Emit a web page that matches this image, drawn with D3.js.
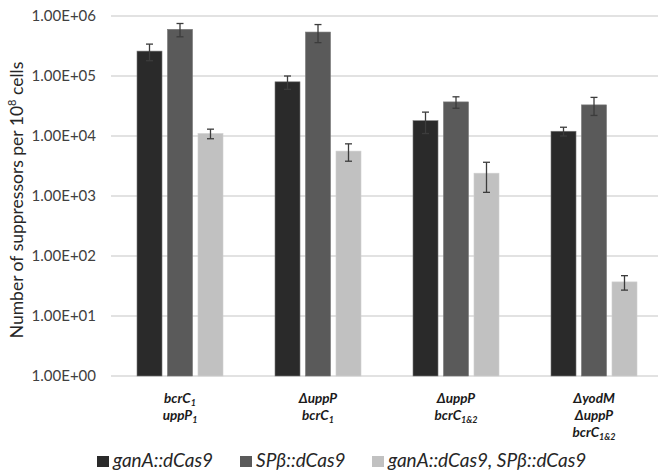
<!DOCTYPE html>
<html><head><meta charset="utf-8">
<script src="https://cdn.jsdelivr.net/npm/d3@7"></script>
<style>
html,body{margin:0;padding:0;background:#fff;}
svg{display:block;}
text{font-family:Lato,"Open Sans",sans-serif;}
</style></head>
<body>
<svg id="chart" width="658" height="472"></svg>
<script>
// ---- data ----
const categoryLabels = [
  [["bcrC","1"],["uppP","1"]],
  [["ΔuppP",""],["bcrC","1"]],
  [["ΔuppP",""],["bcrC","1&2"]],
  [["ΔyodM",""],["ΔuppP",""],["bcrC","1&2"]]
];
const categories = ["A","B","C","D"];
const seriesNames = ["ganA::dCas9","SPβ::dCas9","ganA::dCas9, SPβ::dCas9"];
const ganAValues = [260000, 80000, 18000, 12000];
const spbValues = [600000, 540000, 37000, 33000];
const bothValues = [11000, 5600, 2400, 37];
const ganAErrors = [80000, 20000, 7000, 2000];
const spbErrors = [150000, 180000, 8000, 11000];
const bothErrors = [2000, 1800, 1250, 10];
const yTickValues = [1, 10, 100, 1000, 10000, 100000, 1000000];
const yTickLabels = ["1.00E+00","1.00E+01","1.00E+02","1.00E+03","1.00E+04","1.00E+05","1.00E+06"];
const colors = ["#2a2a2a", "#5a5a5a", "#c1c1c1"];

const seriesValues = [ganAValues, spbValues, bothValues];
const seriesErrors = [ganAErrors, spbErrors, bothErrors];

const svg = d3.select("#chart");
const plot = {left:111, right:663, top:16, bottom:376};

const y = d3.scaleLog().domain([1, 1e6]).range([plot.bottom, plot.top]);
const x0 = d3.scaleBand().domain(categories).range([plot.left, plot.right]).padding(0);
const x1 = d3.scaleBand().domain([0,1,2]).range([26, 112]).paddingInner(0.18).paddingOuter(0);

// gridlines
svg.append("g").selectAll("line").data(yTickValues).join("line")
  .attr("x1", plot.left).attr("x2", plot.right)
  .attr("y1", d => y(d)).attr("y2", d => y(d))
  .attr("stroke", "#d9d9d9").attr("stroke-width", 1.3);

// y tick labels
svg.append("g").selectAll("text").data(yTickValues).join("text")
  .attr("x", 96).attr("y", d => y(d)).attr("dy", "0.35em")
  .attr("text-anchor", "end").attr("font-size", 15).attr("fill", "#404040")
  .text((d,i) => yTickLabels[i]);

// y title
const yt = svg.append("text")
  .attr("transform", "translate(23," + ((plot.top + plot.bottom)/2 + 4) + ") rotate(-90)")
  .attr("text-anchor", "middle").attr("font-size", 17.5).attr("fill", "#262626");
yt.append("tspan").text("Number of suppressors per 10");
yt.append("tspan").attr("font-size", 11).attr("dy", -7).text("8");
yt.append("tspan").attr("dy", 7).text(" cells");

// bars
const gGroups = svg.append("g").selectAll("g").data(categories).join("g")
  .attr("transform", d => "translate(" + x0(d) + ",0)");

seriesValues.forEach((vals, si) => {
  gGroups.append("rect")
    .attr("x", x1(si)).attr("width", x1.bandwidth())
    .attr("y", (d,i) => y(vals[i]))
    .attr("height", (d,i) => plot.bottom - y(vals[i]))
    .attr("fill", colors[si])
    .attr("stroke", si === 2 ? "#cfcfcf" : "#777").attr("stroke-width", 0.6);
});

// error bars
seriesValues.forEach((vals, si) => {
  const errs = seriesErrors[si];
  const cx = x1(si) + x1.bandwidth()/2;
  const eg = gGroups.append("g").attr("stroke", "#3c3c3c").attr("stroke-width", 1.3);
  eg.append("line").attr("x1", cx).attr("x2", cx)
    .attr("y1", (d,i) => y(vals[i] + errs[i])).attr("y2", (d,i) => y(vals[i] - errs[i]));
  eg.append("line").attr("x1", cx-3.5).attr("x2", cx+3.5)
    .attr("y1", (d,i) => y(vals[i] + errs[i])).attr("y2", (d,i) => y(vals[i] + errs[i]));
  eg.append("line").attr("x1", cx-3.5).attr("x2", cx+3.5)
    .attr("y1", (d,i) => y(vals[i] - errs[i])).attr("y2", (d,i) => y(vals[i] - errs[i]));
});

// x category labels
categories.forEach((c, ci) => {
  const cx = x0(c) + x0.bandwidth()/2;
  categoryLabels[ci].forEach((line, li) => {
    const t = svg.append("text").attr("x", cx).attr("y", 403 + li*17)
      .attr("text-anchor", "middle").attr("font-size", 13.5)
      .attr("font-weight", "bold").attr("font-style", "italic").attr("fill", "#1a1a1a");
    t.append("tspan").text(line[0]);
    if (line[1]) t.append("tspan").attr("font-size", 9).attr("dy", 3).text(line[1]);
  });
});

// legend
const legendX = [97, 240, 372];
const legend = svg.append("g").selectAll("g").data(seriesNames).join("g")
  .attr("transform", (d,i) => "translate(" + legendX[i] + ",456)");
legend.append("rect").attr("width", 12).attr("height", 11).attr("fill", (d,i) => colors[i]);
legend.append("text").attr("x", 16).attr("y", 11).attr("font-size", 19)
  .attr("font-style", "italic").attr("fill", "#262626").text(d => d);
</script>
</body></html>
